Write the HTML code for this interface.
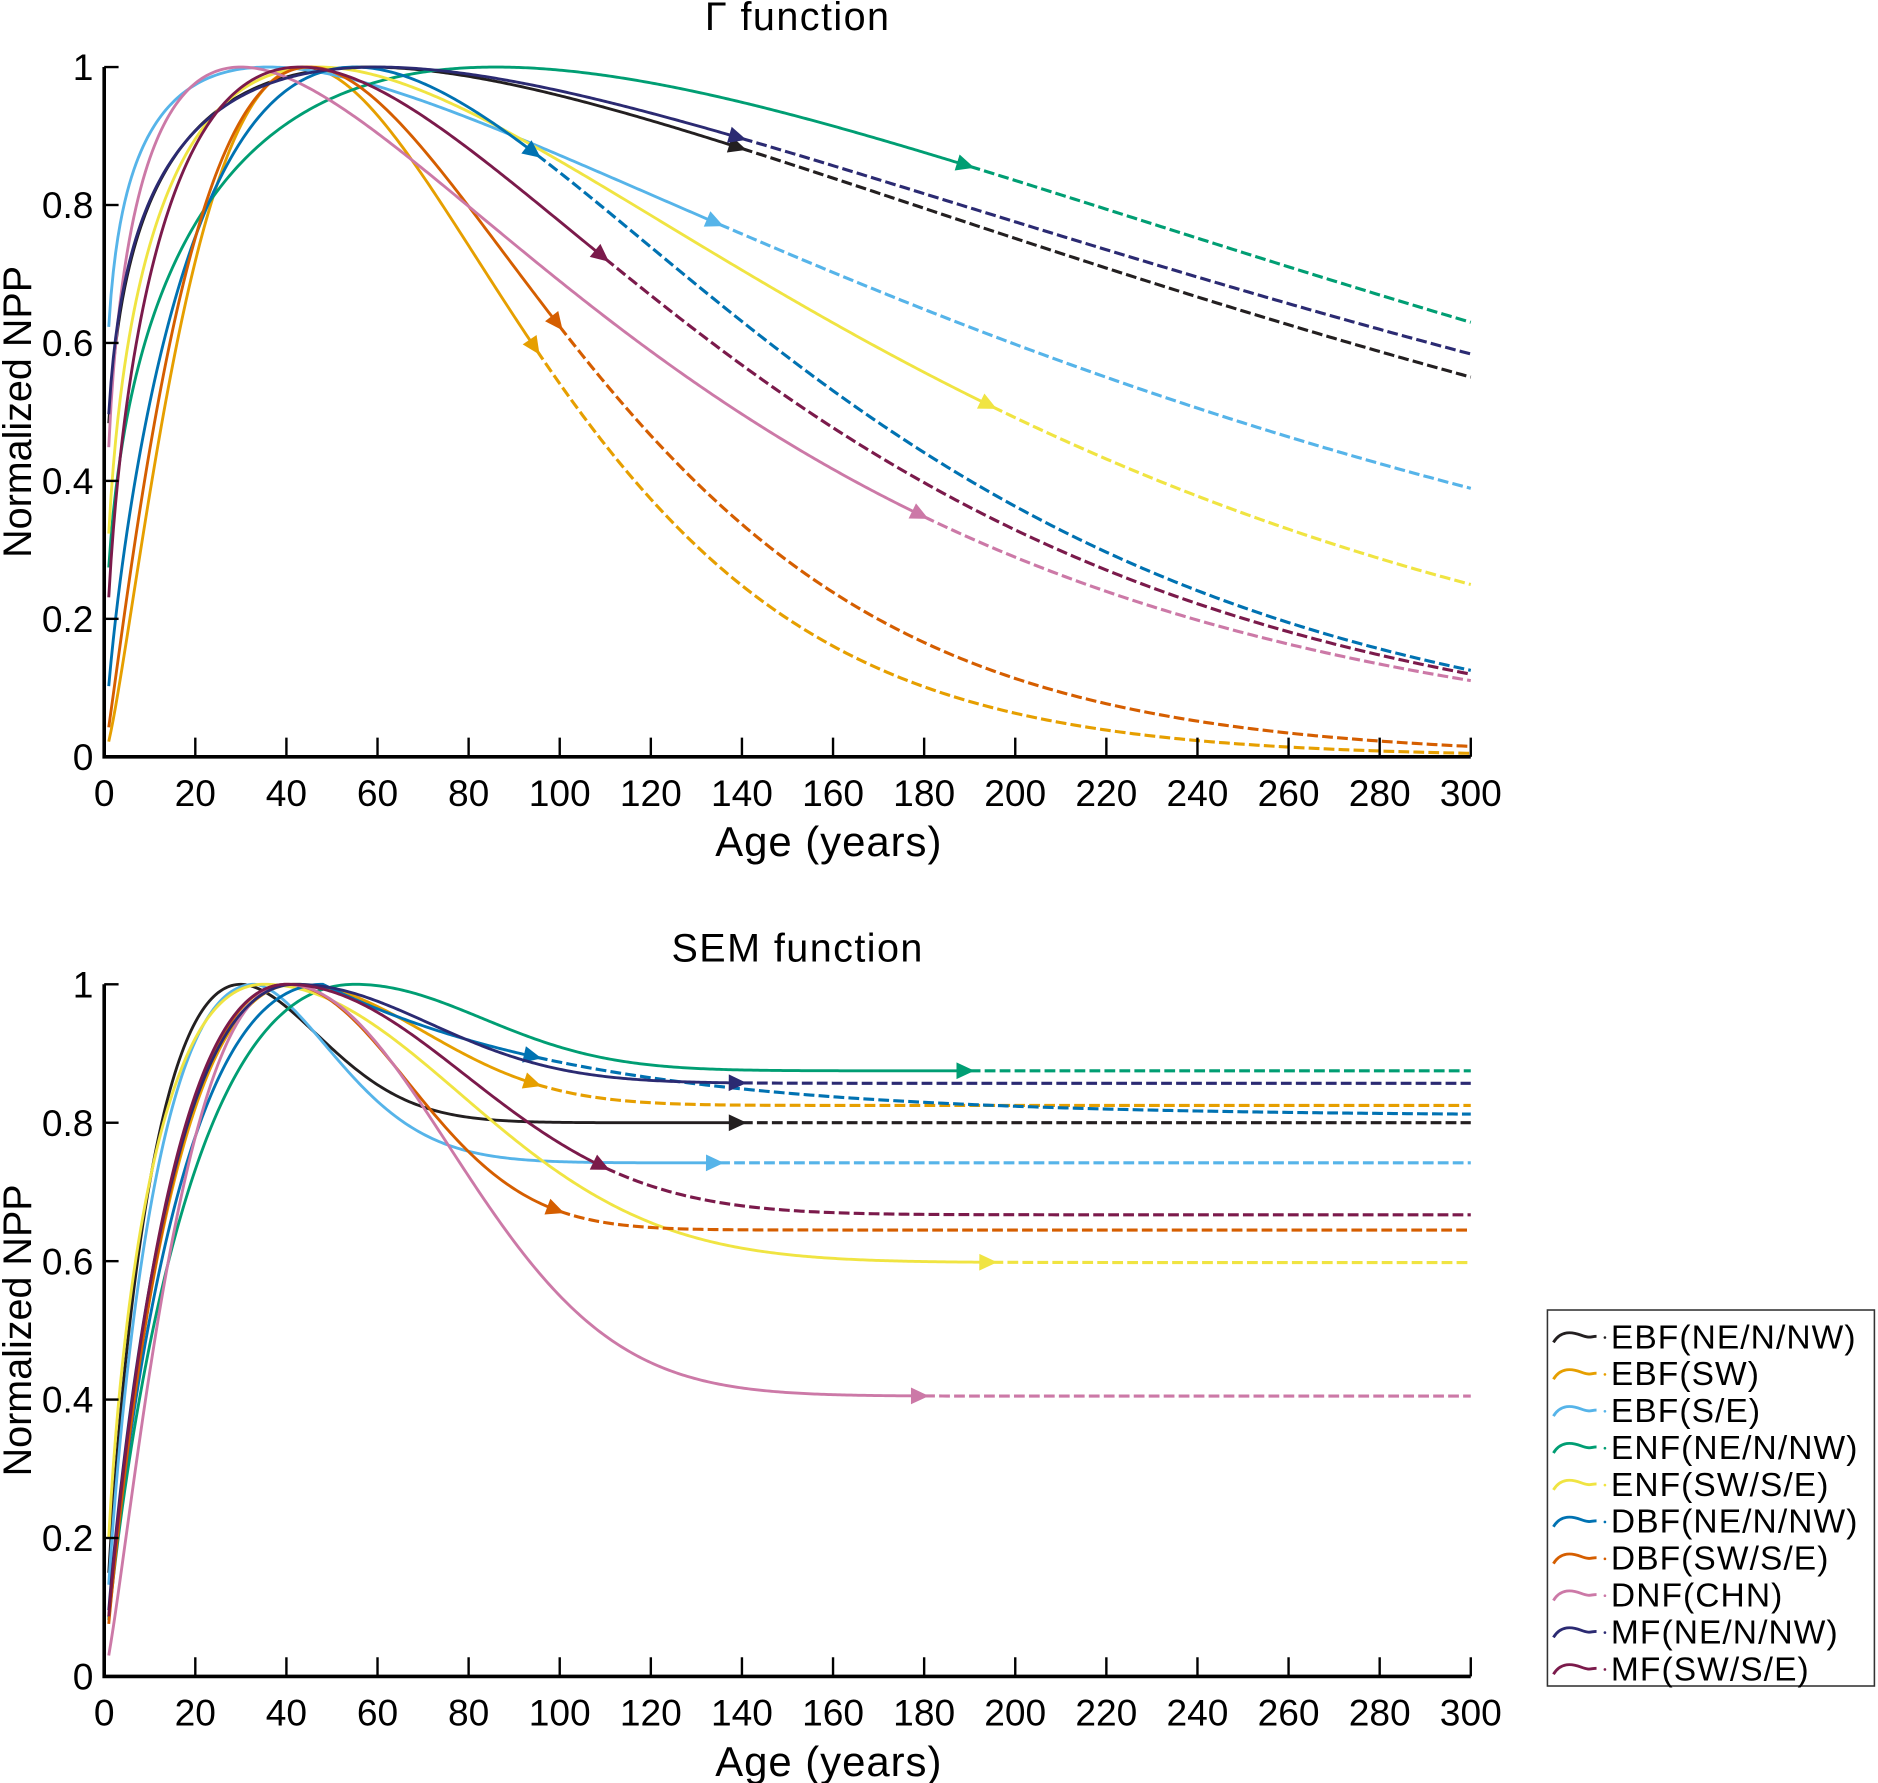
<!DOCTYPE html>
<html><head><meta charset="utf-8"><style>
html,body{margin:0;padding:0;background:#fff;width:1878px;height:1783px;overflow:hidden}
svg{display:block}
text{font-family:"Liberation Sans",Arial,sans-serif;fill:#000}
</style></head><body>
<svg id="chart" width="1878" height="1783" viewBox="0 0 1568 1489" preserveAspectRatio="none" xmlns="http://www.w3.org/2000/svg"></svg>
<script>
// ---- data ----
const seriesNames = ["EBF(NE/N/NW)","EBF(SW)","EBF(S/E)","ENF(NE/N/NW)","ENF(SW/S/E)","DBF(NE/N/NW)","DBF(SW/S/E)","DNF(CHN)","MF(NE/N/NW)","MF(SW/S/E)"];
const seriesColors = ["#231f20","#e69f00","#56b4e9","#009e73","#f0e442","#0072b2","#d55e00","#cc79a7","#2b2a72","#7b1a4b"];
// Gamma function: peak age, shape, arrow age
const gammaPeak  = [58, 44, 36, 86, 47, 55, 45, 30, 60, 43];
const gammaShape = [0.236, 1.36, 0.181, 0.373, 0.393, 0.753, 1.114, 0.329, 0.225, 0.526];
const gammaArrow = [140, 95, 135, 190, 195, 95, 100, 180, 140, 110];
// SEM function: peak age, rise shape, asymptote, decay scale, decay power, arrow age
const semPeak  = [30, 42, 33, 55, 35, 48, 40, 40, 42, 40];
const semRise  = [0.78, 0.9, 0.8, 0.83, 0.62, 0.85, 0.95, 1.29, 0.85, 0.9];
const semAsym  = [0.80, 0.825, 0.742, 0.875, 0.598, 0.81, 0.645, 0.405, 0.857, 0.667];
const semScale = [26, 40, 26, 39.6, 61, 58, 37.4, 50.5, 41.5, 55.5];
const semPow   = [1.8, 2, 1.7, 2, 2, 1, 2, 2, 2, 2];
const semArrow = [140, 95, 135, 190, 195, 95, 100, 180, 140, 110];
const xTicks = [0,20,40,60,80,100,120,140,160,180,200,220,240,260,280,300];
const yTicks = [0,0.2,0.4,0.6,0.8,1];
const yTickLabels = ["0","0.2","0.4","0.6","0.8","1"];

const NS="http://www.w3.org/2000/svg";
const svg=document.getElementById('chart');
function mk(tag,attrs,parent){const e=document.createElementNS(NS,tag);for(const k in attrs)e.setAttribute(k,attrs[k]);(parent||svg).appendChild(e);return e;}

function gammaF(i,t){const r=t/gammaPeak[i];return Math.pow(r,gammaShape[i])*Math.exp(gammaShape[i]*(1-r));}
function semF(i,t){const tp=semPeak[i];
  if(t<=tp){const r=t/tp;return Math.pow(r,semRise[i])*Math.exp(semRise[i]*(1-r));}
  const A=semAsym[i];return A+(1-A)*Math.exp(-Math.pow((t-tp)/semScale[i],semPow[i]));}

function drawPanel(name,title,top,bottom,titleY,fn,arrows){
  const x0=87,x1=1228;
  const X=v=>x0+(x1-x0)*v/300;
  const Y=v=>bottom-(bottom-top)*v;
  const g=mk('g',{});
  
  
  const tt=mk('text',{x:666,y:titleY,'font-size':33,'text-anchor':'middle','letter-spacing':'1.2'},g);
  tt.textContent=title;
  
  
  for(let i=0;i<seriesNames.length;i++){
    const sg=mk('g',{},g);
    
    
    const ta=arrows[i];
    let d1='',d2='';
    for(let t=1;t<=ta+0.001;t+=0.5){d1+=(d1?'L':'M')+X(t).toFixed(2)+','+Y(fn(i,t)).toFixed(2);}
    for(let t=ta;t<=300.001;t+=1){d2+=(d2?'L':'M')+X(t).toFixed(2)+','+Y(fn(i,t)).toFixed(2);}
    const p1=mk('path',{d:d1,fill:'none',stroke:seriesColors[i],'stroke-width':2.4},sg);
    
    
    const p2=mk('path',{d:d2,fill:'none',stroke:seriesColors[i],'stroke-width':2.6,'stroke-dasharray':'9,3.5'},sg);
    
    
    const ax=X(ta),ay=Y(fn(i,ta));
    const bx=X(ta-2),by=Y(fn(i,ta-2));
    const ang=Math.atan2(ay-by,ax-bx);
    const L=15,W=7;
    const tipx=ax+4*Math.cos(ang),tipy=ay+4*Math.sin(ang);
    const bxx=tipx-L*Math.cos(ang),byy=tipy-L*Math.sin(ang);
    const pts=[[tipx,tipy],[bxx-W*Math.sin(ang),byy+W*Math.cos(ang)],[bxx+W*Math.sin(ang),byy-W*Math.cos(ang)]];
    const ah=mk('polygon',{points:pts.map(p=>p[0].toFixed(1)+','+p[1].toFixed(1)).join(' '),fill:seriesColors[i]},sg);
    
    
  }
  const ax=mk('path',{d:`M${x0},${top}V${bottom}H${x1}`,fill:'none',stroke:'#000','stroke-width':3},g);
  
  
  xTicks.forEach(v=>{
    mk('line',{x1:X(v),x2:X(v),y1:bottom,y2:bottom-16,stroke:'#000','stroke-width':2},g);
    const t=mk('text',{x:X(v),y:bottom+41,'font-size':31,'text-anchor':'middle'},g);
    t.textContent=v;
    
    
  });
  yTicks.forEach((v,k)=>{
    mk('line',{x1:x0,x2:x0+12,y1:Y(v),y2:Y(v),stroke:'#000','stroke-width':2},g);
    const t=mk('text',{x:x0-9,y:Y(v)+11,'font-size':31,'text-anchor':'end'},g);
    t.textContent=yTickLabels[k];
    
    
  });
  const xl=mk('text',{x:692,y:bottom+83,'font-size':35,'text-anchor':'middle','letter-spacing':'0.8'},g);
  xl.textContent='Age (years)';
  
  
  const cy=(top+bottom)/2+0;
  const yl=mk('text',{x:26,y:cy,'font-size':33,'text-anchor':'middle',transform:`rotate(-90 26 ${cy})`},g);
  yl.textContent='Normalized NPP';
  
  
}
drawPanel('gamma','Γ function',56,632,25,gammaF,gammaArrow);
drawPanel('sem','SEM function',822,1400,803,semF,semArrow);

const lg=mk('g',{});


mk('rect',{x:1292,y:1094,width:273,height:314,fill:'#fff',stroke:'#333','stroke-width':1.3},lg);
seriesNames.forEach((n,i)=>{
  const y=1115+i*30.8;
  const e=mk('g',{},lg);
  
  
  mk('path',{d:`M1297,${y+6}C1303,${y-4} 1312,${y-3} 1320,${y}S1328,${y+1} 1333,${y+1}`,fill:'none',stroke:seriesColors[i],'stroke-width':2.4},e);
  mk('circle',{cx:1340,cy:y+2,r:1.1,fill:seriesColors[i]},e);
  const t=mk('text',{x:1345,y:y+11,'font-size':28,'letter-spacing':'0.9'},e);
  t.textContent=n;
});
</script>
</body></html>
